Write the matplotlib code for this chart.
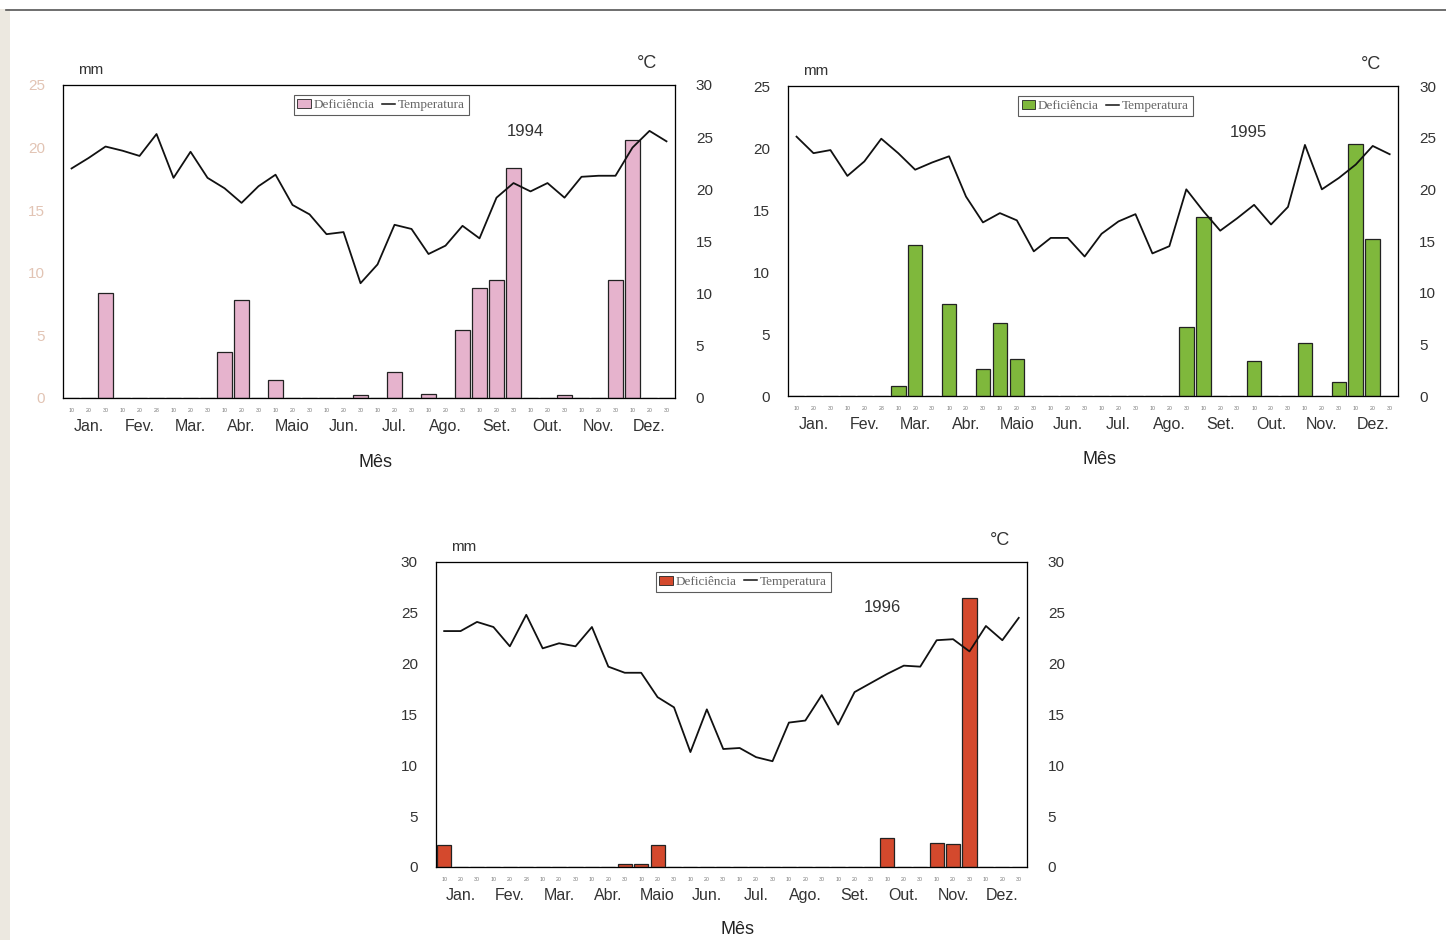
import matplotlib
matplotlib.use("Agg")
import matplotlib.pyplot as plt
from matplotlib.patches import Patch, Rectangle
from matplotlib.lines import Line2D

plt.rcParams['font.family'] = ['Liberation Sans', 'DejaVu Sans']

# decendial periods (3 per month)
months = ['Jan.', 'Fev.', 'Mar.', 'Abr.', 'Maio', 'Jun.', 'Jul.', 'Ago.', 'Set.', 'Out.', 'Nov.', 'Dez.']
decade_labels = ['10', '20', '30', '10', '20', '28'] + ['10', '20', '30'] * 10

# water deficiency (mm)
deficit_1994 = [0, 0, 8.4, 0, 0, 0, 0, 0, 0, 3.7, 7.8, 0,
                1.4, 0, 0, 0, 0, 0.2, 0, 2.1, 0, 0.35, 0, 5.4,
                8.8, 9.4, 18.4, 0, 0, 0.25, 0, 0, 9.4, 20.6, 0, 0]
deficit_1995 = [0, 0, 0, 0, 0, 0, 0.8, 12.2, 0, 7.45, 0, 2.2,
                5.85, 3.0, 0, 0, 0, 0, 0, 0, 0, 0, 0, 5.6,
                14.4, 0, 0, 2.8, 0, 0, 4.3, 0, 1.1, 20.3, 12.7, 0]
deficit_1996 = [2.2, 0, 0, 0, 0, 0, 0, 0, 0, 0, 0, 0.3,
                0.3, 2.2, 0, 0, 0, 0, 0, 0, 0, 0, 0, 0,
                0, 0, 0, 2.8, 0, 0, 2.4, 2.3, 26.5, 0, 0, 0]

# temperature (°C)
temp_1994 = [22.0, 23.0, 24.1, 23.7, 23.2, 25.3, 21.1, 23.6, 21.1, 20.1, 18.7, 20.3,
             21.4, 18.5, 17.6, 15.7, 15.9, 11.0, 12.8, 16.6, 16.2, 13.8, 14.6, 16.5,
             15.3, 19.2, 20.6, 19.8, 20.6, 19.2, 21.2, 21.3, 21.3, 24.0, 25.6, 24.6]
temp_1995 = [25.1, 23.5, 23.8, 21.3, 22.7, 24.9, 23.5, 21.9, 22.6, 23.2, 19.3, 16.8,
             17.7, 17.0, 14.0, 15.3, 15.3, 13.5, 15.7, 16.9, 17.6, 13.8, 14.5, 20.0,
             17.9, 16.0, 17.2, 18.5, 16.6, 18.3, 24.3, 20.0, 21.1, 22.4, 24.2, 23.4]
temp_1996 = [23.2, 23.2, 24.1, 23.6, 21.7, 24.8, 21.5, 22.0, 21.7, 23.6, 19.7, 19.1,
             19.1, 16.7, 15.7, 11.3, 15.5, 11.6, 11.7, 10.8, 10.4, 14.2, 14.4, 16.9,
             14.0, 17.2, 18.1, 19.0, 19.8, 19.7, 22.3, 22.4, 21.2, 23.7, 22.3, 24.5]

fig = plt.figure(figsize=(14.46, 9.4), dpi=100)
fig.patch.set_facecolor('white')
# scanned page edge
fig.patches.append(Rectangle((0, 0), 0.007, 0.99, transform=fig.transFigure,
                             facecolor='#ece8e0', edgecolor='none', zorder=0))
fig.lines.append(Line2D([0.004, 1], [0.989, 0.989], transform=fig.transFigure,
                        color='#555555', linewidth=1.2))


def draw_panel(rect, deficit, temp, color, year, left_max, left_label_color='#333333'):
    ax = fig.add_axes(rect)
    x = list(range(36))
    ax.bar(x, deficit, width=0.86, color=color, edgecolor='#222222', linewidth=0.9, zorder=2)
    ax.set_xlim(-0.5, 35.5)
    ax.set_ylim(0, left_max)
    ax.set_yticks(range(0, left_max + 1, 5))
    ax.tick_params(axis='y', length=0, labelsize=11, labelcolor=left_label_color, pad=13)
    ax.set_xticks(x)
    ax.set_xticklabels(decade_labels, fontsize=3.8, color='#777777')
    ax.tick_params(axis='x', length=0, pad=7)
    for s in ax.spines.values():
        s.set_linewidth(0.9)
        s.set_color('#444444')

    ax2 = ax.twinx()
    ax2.plot(x, temp, color='#111111', linewidth=1.3, zorder=3)
    ax2.set_ylim(0, 30)
    ax2.set_yticks(range(0, 31, 5))
    ax2.tick_params(axis='y', length=0, labelsize=11, labelcolor='#333333', pad=15)

    for m, name in enumerate(months):
        ax.text(3 * m + 1, -0.092, name, transform=ax.get_xaxis_transform(),
                ha='center', va='center', fontsize=11.5, color='#333333')
    ax.text(0.51, -0.205, 'Mês', transform=ax.transAxes, ha='center', va='center',
            fontsize=13, color='#222222')
    ax.text(0.025, 1.048, 'mm', transform=ax.transAxes, ha='left', va='center',
            fontsize=11, color='#333333')
    ax.text(0.955, 1.07, '°C', transform=ax.transAxes, ha='center', va='center',
            fontsize=13, color='#333333')
    ax.text(0.755, 0.85, year, transform=ax.transAxes, ha='center', va='center',
            fontsize=12, color='#333333')

    handles = [Patch(facecolor=color, edgecolor='#222222', linewidth=0.6),
               Line2D([0], [0], color='#111111', linewidth=1.1)]
    leg = ax2.legend(handles, ['Deficiência', 'Temperatura'], ncol=2, loc='center',
                     bbox_to_anchor=(0.52, 0.935), frameon=True,
                     prop={'family': 'Liberation Serif', 'size': 9.5},
                     fancybox=False, handlelength=1.0, handleheight=0.7,
                     handletextpad=0.25, columnspacing=0.5, borderpad=0.3,
                     borderaxespad=0, labelcolor='#666666')
    leg.get_frame().set_edgecolor('#333333')
    leg.get_frame().set_linewidth(0.8)
    return ax


draw_panel([0.0436, 0.5766, 0.4232, 0.333], deficit_1994, temp_1994, '#e6b3cd', '1994',
           25, left_label_color='#e2c4b4')
draw_panel([0.545, 0.5787, 0.4219, 0.3298], deficit_1995, temp_1995, '#7fb83c', '1995', 25)
draw_panel([0.3015, 0.0777, 0.4087, 0.3245], deficit_1996, temp_1996, '#d4492d', '1996', 30)

fig.savefig('out.png', dpi=100)
